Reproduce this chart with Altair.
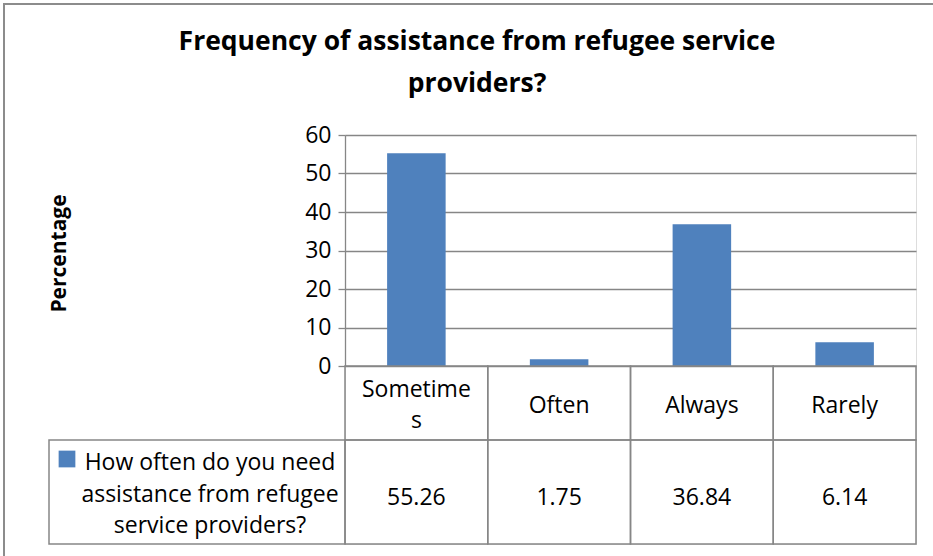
import altair as alt
import pandas as pd

# ---- data ----
categories = ["Sometimes", "Often", "Always", "Rarely"]
values = [55.26, 1.75, 36.84, 6.14]
series_name = "How often do you need assistance from refugee service providers?"
legend_lines = ["How often do you need", "assistance from refugee", "service providers?"]
y_ticks = [0, 10, 20, 30, 40, 50, 60]
title_lines = ["Frequency of assistance from refugee service", "providers?"]

# ---- styling / layout constants ----
BLUE = "#4F81BD"
GRAY = "#868686"
FONT = "Open Sans"
FS = 23
W, H = 571, 409          # plot area incl. data table
BAR_H = 231              # height of the bar region
HEAD_H = 74              # header row height
PAD_L, PAD_T, PAD_R, PAD_B = 345, 135, 17, 12


def wrap(s, n=8):
    return s if len(s) <= n else s[:n] + "\n" + s[n:]


df = pd.DataFrame({"cat": categories, "val": values})
df["header"] = [wrap(c) for c in categories]
df["nlines"] = [h.count("\n") + 1 for h in df["header"]]
df["label"] = [f"{v:.2f}" for v in values]

x_enc = alt.X("cat:N", sort=categories, axis=None,
              scale=alt.Scale(paddingInner=0, paddingOuter=0))

base = alt.Chart(df)

bars = base.mark_bar(color=BLUE, width={"band": 0.41}).encode(
    x=x_enc,
    y=alt.Y("val:Q",
            scale=alt.Scale(domain=[0, 60], range=[BAR_H, 0], nice=False, zero=True),
            axis=alt.Axis(values=y_ticks, grid=True, gridColor=GRAY, gridWidth=1.3,
                          domainColor=GRAY, domainWidth=1.3, tickColor=GRAY, tickWidth=1.3,
                          tickSize=7, labelFont=FONT, labelFontSize=FS, labelColor="#000",
                          labelPadding=7, title="Percentage", titleFont=FONT,
                          titleFontSize=21, titleFontWeight="bold", titleColor="#000",
                          titleAngle=-90, titleX=-286, titleY=118, titleAlign="center",
                          titleBaseline="middle")),
)

# header row cells
head_cells = base.mark_rect(fill=None, stroke=GRAY, strokeWidth=1.5).encode(
    x=x_enc, y=alt.value(BAR_H), y2=alt.value(BAR_H + HEAD_H))
# wrapped labels start higher so the block stays centred in the cell
head_text = base.mark_text(font=FONT, fontSize=FS, color="#000", lineBreak="\n",
                           lineHeight=31, baseline="middle").encode(
    x=x_enc,
    y=alt.Y("nlines:Q", axis=None,
            scale=alt.Scale(domain=[1, 2], range=[BAR_H + 40, BAR_H + 24])),
    text="header:N")

# value row cells
val_cells = base.mark_rect(fill=None, stroke=GRAY, strokeWidth=1.5).encode(
    x=x_enc, y=alt.value(BAR_H + HEAD_H), y2=alt.value(H))
val_text = base.mark_text(font=FONT, fontSize=FS, color="#000", baseline="middle").encode(
    x=x_enc, y=alt.value(363), text="label:N")

# legend cell
leg_df = pd.DataFrame({"series": [series_name], "txt": ["\n".join(legend_lines)],
                       "title": ["\n".join(title_lines)]})
leg_base = alt.Chart(leg_df)
leg_cell = leg_base.mark_rect(fill=None, stroke=GRAY, strokeWidth=1.5).encode(
    x=alt.value(-296), x2=alt.value(0), y=alt.value(BAR_H + HEAD_H), y2=alt.value(H))
leg_key = leg_base.mark_point(shape="square", filled=True, color=BLUE, size=280,
                              opacity=1).encode(
    x=alt.value(-278), y=alt.value(324))
leg_text = leg_base.mark_text(font=FONT, fontSize=FS, color="#000", lineBreak="\n",
                              lineHeight=31.5, baseline="middle", align="center").encode(
    x=alt.value(-135), y=alt.value(328), text="txt:N")

# chart title
title_text = leg_base.mark_text(font=FONT, fontSize=26.5, fontWeight="bold", color="#000",
                                lineBreak="\n", lineHeight=42, baseline="alphabetic",
                                align="center").encode(
    x=alt.value(132), y=alt.value(-85), text="title:N")

# outer chart frame
frame = leg_base.mark_rect(fill=None, stroke="#8c8c8c", strokeWidth=2).encode(
    x=alt.value(-341), x2=alt.value(W + PAD_R + 10),
    y=alt.value(-131), y2=alt.value(H + PAD_B + 10))

chart = alt.layer(
    bars, head_cells, head_text, val_cells, val_text,
    leg_cell, leg_key, leg_text, title_text, frame
).resolve_scale(x="shared", y="independent").properties(
    width=W, height=H,
    autosize=alt.AutoSizeParams(type="none"),
    padding={"left": PAD_L, "top": PAD_T, "right": PAD_R, "bottom": PAD_B},
).configure_view(stroke=None).configure(background="white")

chart.save("out.html", embed_options={"renderer": "svg", "actions": False})
